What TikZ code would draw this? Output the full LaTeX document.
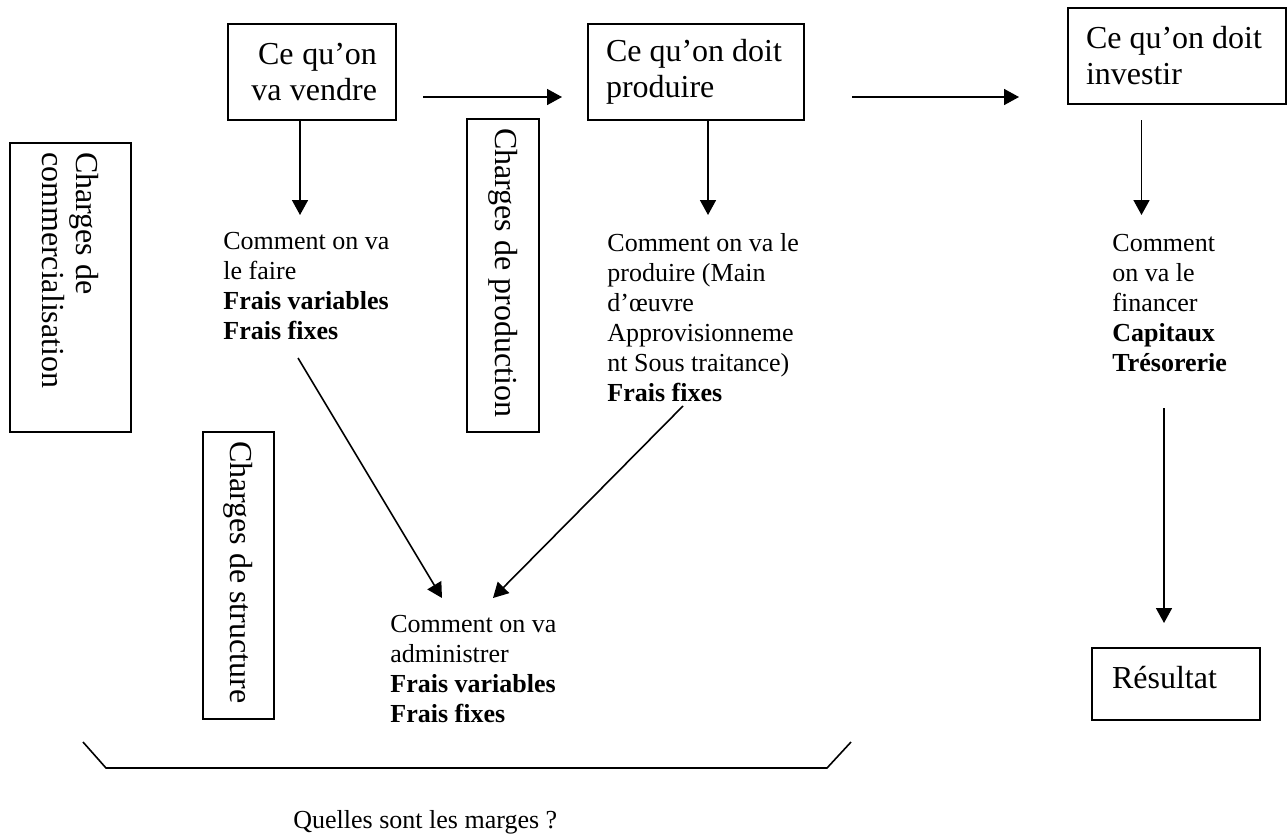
\documentclass[tikz,border=0pt]{standalone}
\usepackage{fontspec}
\setmainfont{Liberation Serif}
\usetikzlibrary{calc,arrows.meta}

\tikzset{
  espace/.style={execute at begin node={\spaceskip=0pt\xspaceskip=0pt\relax}},
  boite/.style={draw, line width=1pt, anchor=north west, font=\fontsize{16}{18}\selectfont,
    inner xsep=9pt, minimum height=48pt, align=left, espace},
  charge/.style={draw, line width=1pt, rotate=-90, font=\fontsize{16}{17}\selectfont,
    inner xsep=4.5pt, align=left, espace},
  texte/.style={anchor=north west, inner sep=0pt, align=left, font=\fontsize{13}{15}\selectfont, espace},
  fleche/.style={-{Triangle[length=7.5pt,width=8pt]}, line width=0.8pt},
}

\begin{document}
\begin{tikzpicture}[x=0.5pt, y=-0.5pt]
\useasboundingbox (0,0) rectangle (1288,836);

\node (vendre) [boite, text width=65pt, minimum width=84pt, align=right] at (227,23) {Ce qu’on\\va vendre};
\node (produire) [boite, text width=90pt] at (587,23) {Ce qu’on doit\\produire};
\node (investir) [boite, text width=91pt] at (1067,7) {Ce qu’on doit\\investir};
\node (resultat) [boite, text width=64pt, inner xsep=10pt, minimum height=36pt, text depth=7pt] at (1091,647) {Résultat};

\node (commerc) [charge, text width=135.5pt, minimum height=60.5pt] at (70.5,287.5) {Charges de\\commercialisation};
\node (product) [charge, text width=147.5pt, minimum height=36pt] at (503,275.5) {Charges de production};
\node (struct) [charge, text width=134.5pt, minimum height=35.5pt] at (238.5,575.5) {Charges de structure};

\node (faire) [texte] at (223,232) {Comment on va\\le faire\\\textbf{Frais variables}\\\textbf{Frais fixes}};
\node (comprod) [texte] at (607,233) {Comment on va le\\produire (Main\\d’œuvre\\Approvisionneme\\nt Sous traitance)\\\textbf{Frais fixes}};
\node (financer) [texte] at (1112,234) {Comment\\on va le\\financer\\\textbf{Capitaux}\\\textbf{Trésorerie}};
\node (admin) [texte] at (390,615) {Comment on va\\administrer\\\textbf{Frais variables}\\\textbf{Frais fixes}};
\node (marges) [texte] at (293,810) {Quelles sont les marges ?};

% horizontal
\draw [fleche] ([xshift=13pt,yshift=-12.5pt]vendre.east) -- ([xshift=-12.5pt,yshift=-12.5pt]produire.west);
\draw [fleche] ([xshift=23.5pt,yshift=-12.5pt]produire.east) coordinate (d) -- (d -| investir.west) [shorten >=24pt];

% down
\draw [fleche] ([xshift=-6pt]vendre.south) -- ++(0,94);
\draw [fleche] ([xshift=6pt]produire.south) -- ++(0,94);
\draw [fleche] ([xshift=-17.75pt,yshift=-7.5pt]investir.south) -- ++(0,95);
\draw [fleche] ([xshift=-6pt,yshift=119.5pt]resultat.north) -- ([xshift=-6pt,yshift=12pt]resultat.north);

\draw [fleche] ([xshift=37.5pt,yshift=-63pt]faire.north west) -- ([xshift=26pt,yshift=8.5pt]admin.north west);
\draw [fleche] ([xshift=38pt,yshift=-86.5pt]comprod.north west) -- ([xshift=51.5pt,yshift=8.5pt]admin.north west);

% accolade
\draw [line width=0.8pt] (83,742) -- (106,768) -- (827,768) -- (851,742);

\end{tikzpicture}
\end{document}
